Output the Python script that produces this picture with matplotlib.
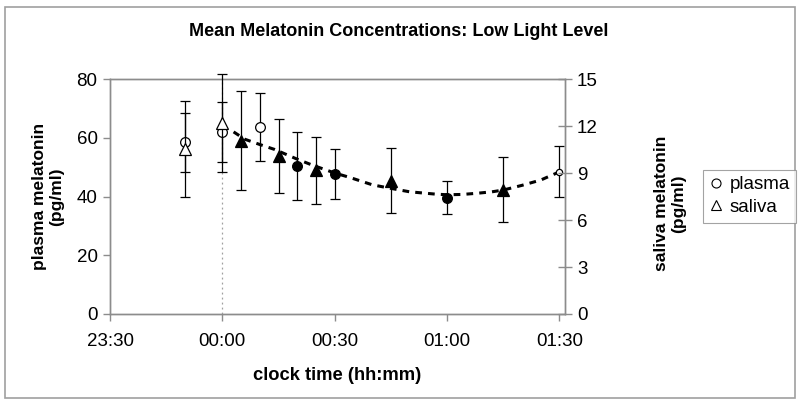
from matplotlib import pyplot as plt
from matplotlib.lines import Line2D
from matplotlib.patches import Rectangle

plt.rcParams['font.family'] = ['Liberation Sans', 'DejaVu Sans']

# minutes relative to 00:00
plasma_t = [-10, 0, 10, 20, 30, 60, 90]
plasma_mean = [58.4, 62.0, 63.7, 50.4, 47.6, 39.6, 48.4]
plasma_err = [10.2, 10.2, 11.7, 11.5, 8.5, 5.6, 8.7]
plasma_filled = [False, False, False, True, True, True, False]

saliva_t = [-10, 0, 5, 15, 25, 45, 75]
saliva_mean = [10.53, 12.17, 11.06, 10.07, 9.17, 8.51, 7.94]
saliva_err = [3.08, 3.13, 3.15, 2.36, 2.16, 2.06, 2.05]
saliva_filled = [False, False, True, True, True, True, True]

# dashed trend curve (plasma scale)
trend_t = [3, 6, 10, 14, 20, 24, 30, 34, 40, 44, 50, 57, 60, 64, 68, 72, 75, 80, 85, 90]
trend_v = [62.0, 59.5, 57.7, 56.0, 52.7, 50.7, 48.0, 46.5, 44.0, 43.0, 41.6, 40.8, 40.6, 40.7, 41.1, 41.6, 42.2, 43.8, 45.6, 48.4]

xticks = [-30, 0, 30, 60, 90]
xticklabels = ['23:30', '00:00', '00:30', '01:00', '01:30']

gray = '#8c8c8c'

fig = plt.figure(figsize=(8, 4.05), dpi=100)
ax = fig.add_axes([0.1375, 0.2247, 0.5688, 0.5802])
ax2 = ax.twinx()

# vertical dotted line at midnight
ax.axvline(0, color='#a0a0a0', linestyle=(0, (1.5, 2.5)), linewidth=0.9, zorder=1)

ax.plot(trend_t, trend_v, color='black', linewidth=2.2, linestyle=(0, (2.2, 2.0)), zorder=2)

# plasma (circles, left axis)
for t, m, e, f in zip(plasma_t, plasma_mean, plasma_err, plasma_filled):
    ms = 4.5 if t == 90 else 7
    ax.errorbar(t, m, yerr=e, fmt='o', color='black', ecolor='black',
                elinewidth=0.9, capsize=3.3, capthick=0.9, ms=ms,
                mfc='black' if f else 'white', mec='black', mew=0.9,
                clip_on=False, zorder=3)

# saliva (triangles, right axis)
for t, m, e, f in zip(saliva_t, saliva_mean, saliva_err, saliva_filled):
    ax2.errorbar(t, m, yerr=e, fmt='^', color='black', ecolor='black',
                 elinewidth=0.9, capsize=3.3, capthick=0.9, ms=8,
                 mfc='black' if f else 'white', mec='black', mew=0.9,
                 clip_on=False, zorder=3)

ax.set_xlim(-30, 91.5)
ax.set_ylim(0, 80)
ax2.set_ylim(0, 15)
ax.set_xticks(xticks)
ax.set_xticklabels(xticklabels)
ax.set_yticks([0, 20, 40, 60, 80])
ax2.set_yticks([0, 3, 6, 9, 12, 15])

for a in (ax, ax2):
    for s in a.spines.values():
        s.set_color(gray)
        s.set_linewidth(1.0)
ax.tick_params(axis='both', colors=gray, labelcolor='black', labelsize=13.5, length=5, width=1)
ax2.tick_params(axis='y', colors=gray, labelcolor='black', labelsize=13.5, length=10, width=1, direction='inout')
ax.tick_params(axis='x', pad=9)
ax.tick_params(axis='y', pad=4)

ax.set_ylabel('plasma melatonin\n(pg/ml)', fontsize=12.5, fontweight='bold')
ax2.set_ylabel('saliva melatonin\n(pg/ml)', fontsize=12.5, fontweight='bold', rotation=90)
ax2.yaxis.set_label_coords(1.195, 0.47)
ax.yaxis.set_label_coords(-0.10, 0.5)
ax.set_xlabel('clock time (hh:mm)', fontsize=13.2, fontweight='bold', labelpad=12)

fig.text(0.4985, 0.923, 'Mean Melatonin Concentrations: Low Light Level',
         ha='center', va='center', fontsize=13, fontweight='bold')

handles = [Line2D([], [], marker='o', linestyle='none', mfc='white', mec='black', ms=6.5, mew=0.8),
           Line2D([], [], marker='^', linestyle='none', mfc='white', mec='black', ms=6.5, mew=0.8)]
leg = fig.legend(handles, ['plasma', 'saliva'], loc='center left',
                 bbox_to_anchor=(0.879, 0.516), fontsize=13.5, frameon=True,
                 fancybox=False, handlelength=0.7, handletextpad=0.35,
                 borderpad=0.35, labelspacing=0.3, borderaxespad=0)
leg.get_frame().set_edgecolor(gray)
leg.get_frame().set_linewidth(0.8)

fig.patches.append(Rectangle((0.00625, 0.0173), 0.9875, 0.9654, transform=fig.transFigure,
                             fill=False, edgecolor='#a0a0a0', linewidth=1.2))

plt.savefig('out.png', dpi=100)
